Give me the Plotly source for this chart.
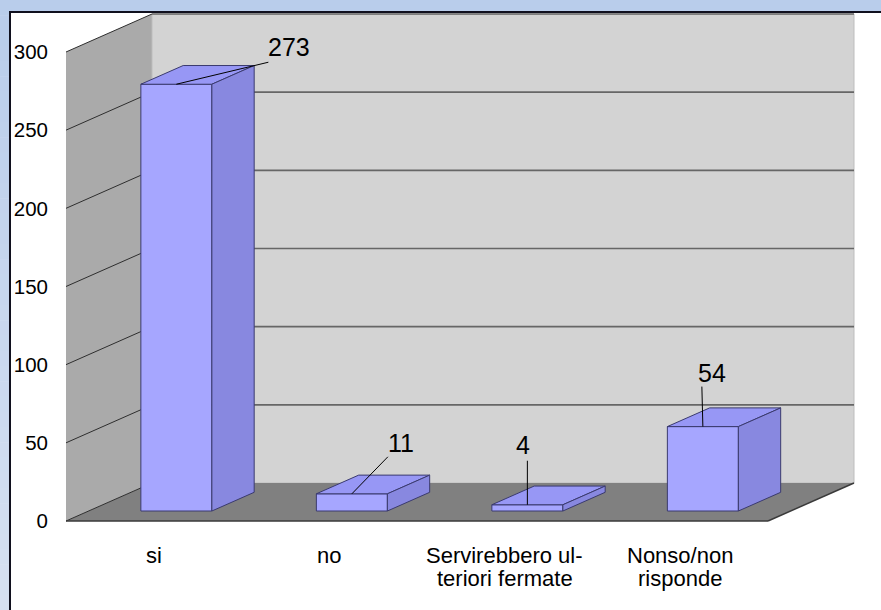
import plotly.graph_objects as go

# ---------------- data ----------------
categories = ["si", "no", "Servirebbero ul-\nteriori fermate", "Nonso/non\nrisponde"]
values = [273, 11, 4, 54]
y_ticks = [0, 50, 100, 150, 200, 250, 300]
y_top = 300

# ---------------- layout constants ----------------
W, H = 881, 610
CAT_PX = 175.5            # pixels per category on the front plane
VAL_PX = 469 / 300        # pixels per value unit
ORIGIN_PX = (66, 521)     # pixel of (x=0, y=0) on the front plane
PL, PR, PT, PB = 56, 881, 11, 530   # plot area in pixels
DEPTH_PX = (86, 38)       # 3-D depth offset of the floor (right, up)
ddx = DEPTH_PX[0] / CAT_PX
ddy = DEPTH_PX[1] / VAL_PX
F1, F2 = 0.263, 0.755     # bar front/back depth fraction
BAR_W = 71 / CAT_PX

FONT = "Liberation Sans, Arial, sans-serif"
BACK_WALL = "#D3D3D3"
SIDE_WALL = "#AAAAAA"
FLOOR = "#808080"
BAR_FRONT = "#A6A6FF"
BAR_TOP = "#9797F5"
BAR_SIDE = "#8888E0"
BAR_EDGE = "#3A3A6E"

# label placement (pixel offsets from the bar's top-front centre)
leader_end_px = [(92, -22), (36, -37), (0, -44), (-1, -40)]
label_px = [(113, -37), (49, -51), (-4, -60), (9, -54)]

n = len(categories)
x_range = [(PL - ORIGIN_PX[0]) / CAT_PX, (PR - ORIGIN_PX[0]) / CAT_PX]
y_range = [(ORIGIN_PX[1] - PB) / VAL_PX, (ORIGIN_PX[1] - PT) / VAL_PX]


def px_x(px):
    return (px - PL) / (PR - PL)


def px_y(py):
    return (PB - py) / (PB - PT)


def poly(xs, ys, fill, line_color=None, width=0.0):
    return go.Scatter(
        x=list(xs) + [xs[0]], y=list(ys) + [ys[0]], mode="lines",
        fill="toself", fillcolor=fill,
        line=dict(color=line_color or fill, width=width),
        hoverinfo="skip", showlegend=False)


def lines(segs, color, width):
    xs, ys = [], []
    for (x0, y0), (x1, y1) in segs:
        xs += [x0, x1, None]
        ys += [y0, y1, None]
    return go.Scatter(x=xs, y=ys, mode="lines", line=dict(color=color, width=width),
                      hoverinfo="skip", showlegend=False)


traces = []
# walls and floor
traces.append(poly([0, 0, ddx, ddx], [0, y_top, y_top + ddy, ddy], SIDE_WALL))
traces.append(poly([ddx, n + ddx, n + ddx, ddx], [ddy, ddy, y_top + ddy, y_top + ddy],
                   BACK_WALL, "#BDBDBD", 1))
traces.append(poly([0, n, n + ddx, ddx], [0, 0, ddy, ddy], FLOOR))
# gridlines
traces.append(lines([((ddx, v + ddy), (n + ddx, v + ddy)) for v in y_ticks[1:]], "#666666", 1.6))
traces.append(lines([((0, v), (ddx, v + ddy)) for v in y_ticks], "#2E2E2E", 1))
# floor edges
traces.append(lines([((0, 0), (n, 0)), ((n, 0), (n + ddx, ddy))], "#3A3A3A", 1.5))

# bars
for i, v in enumerate(values):
    xl = i + 0.5 - BAR_W / 2
    xr = i + 0.5 + BAR_W / 2
    a1x, a1y = F1 * ddx, F1 * ddy
    a2x, a2y = F2 * ddx, F2 * ddy
    traces.append(poly([xl + a1x, xr + a1x, xr + a1x, xl + a1x],
                       [a1y, a1y, v + a1y, v + a1y], BAR_FRONT, BAR_EDGE, 1))
    traces.append(poly([xl + a1x, xr + a1x, xr + a2x, xl + a2x],
                       [v + a1y, v + a1y, v + a2y, v + a2y], BAR_TOP, BAR_EDGE, 1))
    traces.append(poly([xr + a1x, xr + a2x, xr + a2x, xr + a1x],
                       [a1y, a2y, v + a2y, v + a1y], BAR_SIDE, BAR_EDGE, 1))

# value labels with leader lines
annotations = []
segs = []
for i, v in enumerate(values):
    ax = i + 0.5 + F1 * ddx
    ay = v + F1 * ddy
    ex, ey = leader_end_px[i]
    segs.append(((ax, ay), (ax + ex / CAT_PX, ay - ey / VAL_PX)))
    tx, ty = label_px[i]
    annotations.append(dict(
        x=ax, y=ay, xref="x", yref="y", xshift=tx, yshift=-ty,
        text=str(v), showarrow=False, xanchor="center", yanchor="middle",
        font=dict(family=FONT, size=25, color="black")))
traces.append(lines(segs, "black", 1))

# category labels (one annotation per line)
for i, cat in enumerate(categories):
    for k, part in enumerate(cat.split("\n")):
        annotations.append(dict(
            x=i + 0.5, y=px_y(555 + 23 * k), xref="x", yref="paper",
            text=part, showarrow=False, xanchor="center", yanchor="middle",
            font=dict(family=FONT, size=22, color="black")))

# frame (light blue gradient band + dark border)
shapes = []
top_c = (185, 205, 235)
bot_c = (214, 224, 241)
N = 40
for k in range(N):
    t = k / (N - 1)
    c = tuple(round(top_c[j] + (bot_c[j] - top_c[j]) * t) for j in range(3))
    y0 = H * k / N
    y1 = H * (k + 1) / N + 0.5
    shapes.append(dict(type="rect", xref="paper", yref="paper",
                       x0=px_x(0), x1=px_x(9.5), y0=px_y(y1), y1=px_y(y0),
                       fillcolor="rgb(%d,%d,%d)" % c, line=dict(width=0), layer="below"))
shapes.append(dict(type="rect", xref="paper", yref="paper",
                   x0=px_x(0), x1=px_x(W), y0=px_y(11), y1=px_y(0),
                   fillcolor="rgb(%d,%d,%d)" % top_c, line=dict(width=0), layer="below"))
shapes.append(dict(type="path", xref="paper", yref="paper",
                   path="M %f %f L %f %f L %f %f" % (px_x(10), px_y(H + 2), px_x(10), px_y(12),
                                                      px_x(W + 2), px_y(12)),
                   line=dict(color="#10101E", width=2)))

fig = go.Figure(traces)
fig.update_layout(
    width=W, height=H,
    margin=dict(l=PL, r=W - PR, t=PT, b=H - PB, pad=0),
    paper_bgcolor="white", plot_bgcolor="rgba(0,0,0,0)",
    showlegend=False, hovermode=False,
    xaxis=dict(range=x_range, visible=False, fixedrange=True),
    yaxis=dict(range=y_range, tickvals=y_ticks, ticktext=[str(t) for t in y_ticks],
               showgrid=False, zeroline=False, showline=False, ticks="",
               ticklabelstandoff=7, fixedrange=True,
               tickfont=dict(family=FONT, size=20.5, color="black")),
    annotations=annotations, shapes=shapes,
)
fig.write_html(
    "out.html",
    config={"displayModeBar": False, "staticPlot": True},
    post_script="document.body.style.margin='0';document.body.style.overflow='hidden';",
)
